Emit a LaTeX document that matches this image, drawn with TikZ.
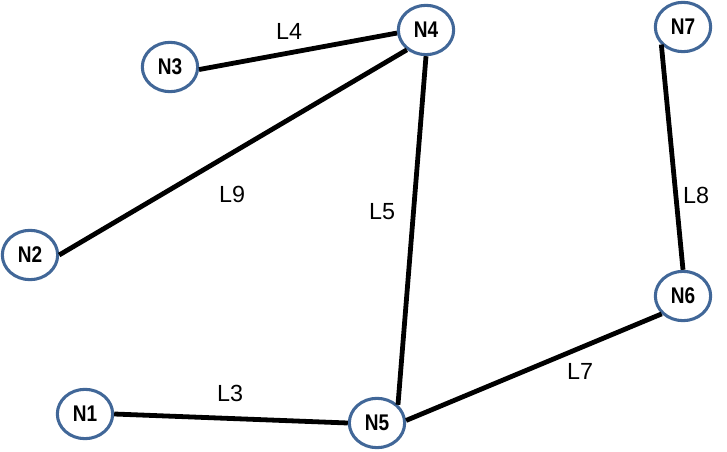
\documentclass[tikz,border=0pt]{standalone}
\usepackage{fontspec}
\setmainfont{Liberation Sans}
\newfontfamily\nodefont[FakeStretch=0.84]{Liberation Sans Bold}
\usetikzlibrary{shapes.geometric}
\definecolor{nodeblue}{RGB}{65,103,152}

\begin{document}
\begin{tikzpicture}[
		x=0.75pt, y=-0.75pt,
		station/.style={
			ellipse,
			draw=nodeblue,
			line width=2.3pt,
			fill=white,
			inner sep=0pt,
			minimum width=41.5pt,
			minimum height=37pt,
			font=\nodefont\fontsize{17}{18}\selectfont
		},
		link/.style={draw, line width=3.6pt},
		lab/.style={font=\fontsize{17.5}{19}\selectfont}
		]
		
		\useasboundingbox (0,0) rectangle (727,452);
		
		% Nodes
		\node[station] (n1) at (85,414) {N1};
		\node[station] (n2) at (30,255) {N2};
		\node[station] (n3) at (170,67) {N3};
		\node[station] (n4) at (426,30) {N4};
		\node[station] (n5) at (377,423) {N5};
		\node[station] (n6) at (683,296) {N6};
		\node[station] (n7) at (683,27) {N7};
		
		% Links
		\draw[link] (n3.-5) -- (n4.186);
		\draw[link] (n4.226) -- (n2.east);
		\draw[link] (n4.south) -- (n5.41);
		\draw[link] (n1.east) -- (n5.west);
		\draw[link] (n5.5) -- (n6.220);
		\draw[link] (n7.219) -- (n6.north);
		
		% Link labels
		\node[lab] (l4) at (289,31) {L4};
		\node[lab] (l9) at (232,194) {L9};
		\node[lab] (l5) at (382,212) {L5};
		\node[lab] (l8) at (696,195) {L8};
		\node[lab] (l7) at (580,371) {L7};
		\node[lab] (l3) at (230,393) {L3};
		
	\end{tikzpicture}
\end{document}
